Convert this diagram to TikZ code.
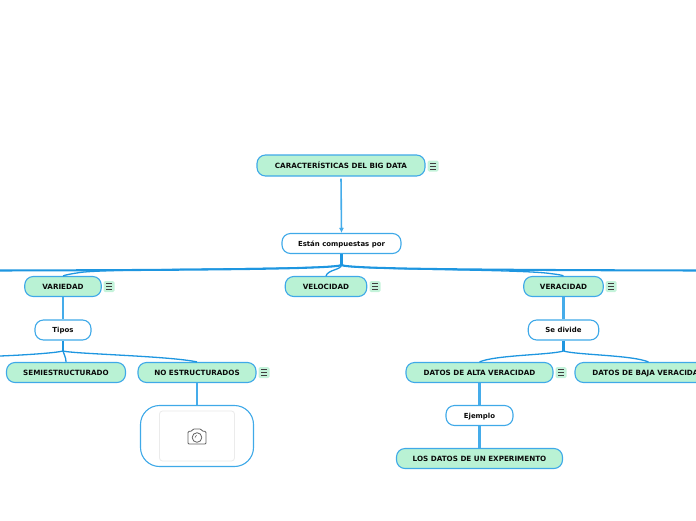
\documentclass[tikz,border=0pt]{standalone}
\usepackage{fontspec}
\setmainfont{DejaVu Sans}
\usetikzlibrary{arrows.meta}
\definecolor{edgeblue}{HTML}{1E96E0}
\definecolor{stemblue}{HTML}{45ACEA}
\definecolor{boxblue}{HTML}{3FA9E8}
\definecolor{mint}{HTML}{B9F2D4}
\definecolor{badge}{HTML}{C4F3DA}
\definecolor{ink}{HTML}{0A0A0A}
\tikzset{
 topicbase/.style={draw=boxblue,line width=1.1pt,rounded corners=8.5pt,minimum height=20pt,inner sep=0pt,
   text=ink,anchor=center,text height=5.4pt,text depth=0.2pt},
 green/.style={topicbase,fill=mint,font=\fontsize{7.2}{8}\selectfont\bfseries},
 plain/.style={topicbase,fill=white,font=\fontsize{6.95}{8}\selectfont\bfseries},
 link/.style={draw=stemblue,line width=2.05pt},
 hub link/.style={draw=edgeblue,line width=2.05pt},
 thin link/.style={draw=edgeblue,line width=1.3pt},
 menu/.style={fill=badge,rounded corners=1.5pt,minimum size=11pt,inner sep=0pt,
  path picture={\draw[draw=black!75,line width=.7pt]
   ([xshift=-3pt,yshift=3pt]path picture bounding box.center)--++(6pt,0)
   ([xshift=-3pt]path picture bounding box.center)--++(6pt,0)
   ([xshift=-3pt,yshift=-3pt]path picture bounding box.center)--++(6pt,0);}},
}
\begin{document}
\begin{tikzpicture}[x=1pt,y=-1pt]
\useasboundingbox (0,0) rectangle (696,520);
\clip (0,0) rectangle (696,520);
% hubs and free ends
\coordinate (hub) at (341.5,265);
\coordinate (offL) at (0,270.5);
\coordinate (offR) at (696,270.5);
\coordinate (hubT) at (63,351);
\coordinate (offT) at (0,356);
\coordinate (hubS) at (563.5,351);
% nodes
\node[green,minimum width=168pt,minimum height=21pt] (root) at (341,165.5) {CARACTERÍSTICAS DEL BIG DATA};
\node[plain,minimum width=119pt] (estan) at (341.5,243.5) {Están compuestas por};
\node[green,minimum width=76.5pt] (variedad) at (63,286.5) {VARIEDAD};
\node[green,minimum width=81.5pt] (velocidad) at (326,286.5) {VELOCIDAD};
\node[green,minimum width=79.5pt] (veracidad) at (563.5,286.5) {VERACIDAD};
\node[plain,minimum width=56pt] (tipos) at (63,330) {Tipos};
\node[plain,minimum width=70.5pt] (sedivide) at (563.5,330) {Se divide};
\node[green,minimum width=119pt] (semi) at (66,372.5) {SEMIESTRUCTURADO};
\node[green,minimum width=118pt] (noest) at (197,372.5) {NO ESTRUCTURADOS};
\node[green,minimum width=147pt] (alta) at (479.5,372.5) {DATOS DE ALTA VERACIDAD};
\node[green,minimum width=147pt] (baja) at (648.5,372.5) {DATOS DE BAJA VERACIDAD};
\node[plain,minimum width=67pt] (ejemplo) at (479.5,415.5) {Ejemplo};
\node[green,minimum width=166pt] (experimento) at (479.5,458.5) {LOS DATOS DE UN EXPERIMENTO};
\node[draw=boxblue,line width=1.1pt,fill=white,rounded corners=19pt,minimum width=113pt,minimum height=61pt,inner sep=0pt] (imagen) at (197,436) {};
\node[draw=black!8,line width=.8pt,rounded corners=3pt,minimum width=75pt,minimum height=50pt,inner sep=0pt] (marco) at (197,436) {};
% badges
\node[menu] (m1) at (433,166) {};
\node[menu] (m2) at (109,286.5) {};
\node[menu] (m3) at (375,286.5) {};
\node[menu] (m4) at (611,286.5) {};
\node[menu] (m5) at (264,372.5) {};
\node[menu] (m6) at (561,372.5) {};
% connectors
\draw[draw=stemblue,line width=1.6pt,-{Latex[length=5pt,width=5pt]},shorten <=2pt] (root.south) -- (estan.north);
\draw[hub link] (estan.south) -- (hub);
\draw[hub link] (hub) .. controls (335,269) and (200,270) .. (offL);
\draw[hub link] (hub) .. controls (348,269) and (480,270) .. (offR);
\draw[thin link] (hub) .. controls (335,270) and (110,268) .. (80,272.5) .. controls (70,274) and (65,275) .. (variedad.north);
\draw[thin link] (hub) .. controls (341,270) and (328,269.5) .. (velocidad.north);
\draw[thin link] (hub) .. controls (348,270) and (520,269) .. (550,273.5) .. controls (558,274.5) and (562,275) .. (veracidad.north);
\draw[link] (variedad.south) -- (tipos.north);
\draw[link] (veracidad.south) -- (sedivide.north);
\draw[hub link] (tipos.south) -- (hubT);
\draw[hub link] (sedivide.south) -- (hubS);
\draw[thin link] (hubT) .. controls (55,353) and (25,355) .. (offT);
\draw[thin link] (hubT) .. controls (64,355) and (66,357) .. (semi.north);
\draw[thin link] (hubT) .. controls (75,354) and (170,356) .. (noest.north);
\draw[thin link] (hubS) .. controls (550,355) and (495,355) .. (alta.north);
\draw[thin link] (hubS) .. controls (577,355) and (632,355) .. (baja.north);
\draw[link] (noest.south) -- (imagen.north);
\draw[link] (alta.south) -- (ejemplo.north);
\draw[link] (ejemplo.south) -- (experimento.north);
% camera icon
\draw[black!62,line width=.8pt,line join=round,rounded corners=1pt]
 (188,431.5) -- (192,431) -- (193,429) -- (201,429) -- (202,431) -- (206,431.5) -- (206,444) -- (188,444) -- cycle;
\draw[black!62,line width=.8pt] (197,437.5) circle (4.8pt);
\draw[black!62,line width=.5pt] (195,438) arc (190:100:2.2pt);
\end{tikzpicture}
\end{document}
